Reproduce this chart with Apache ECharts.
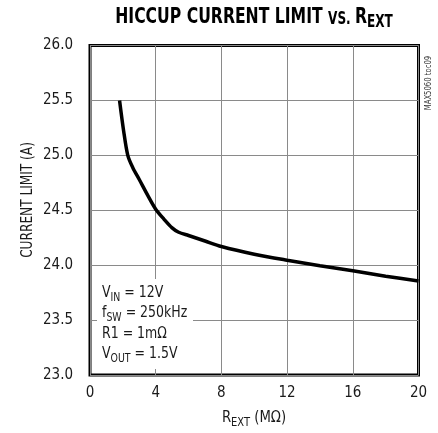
<!DOCTYPE html>
<html><head><meta charset="utf-8">
<script src="https://cdn.jsdelivr.net/npm/echarts@6/dist/echarts.min.js"></script>
<style>html,body{margin:0;padding:0;background:#fff}#c{width:438px;height:433px}</style>
</head><body><div id="c"></div>
<script>
const rExt = [1.8, 2.05, 2.3, 2.6, 3.0, 3.5, 4.0, 4.5, 5.0, 5.4, 6.0, 7.0, 8.0, 10, 12, 14, 16, 18, 20];
const currentLimit = [25.5, 25.22, 25.0, 24.89, 24.78, 24.64, 24.51, 24.42, 24.34, 24.30, 24.27, 24.22, 24.17, 24.10, 24.045, 23.995, 23.95, 23.90, 23.855];
const xTicks = [0, 4, 8, 12, 16, 20];
const yTicks = ['23.0','23.5','24.0','24.5','25.0','25.5','26.0'];

const FONT = '"DejaVu Sans Condensed","Liberation Sans Narrow",sans-serif';
const chart = echarts.init(document.getElementById('c'), null, {renderer:'canvas'});
const base = {fontFamily: FONT, color: '#1a1a1a'};
chart.setOption({
  animation: false,
  grid: {left: 90, right: 19.5, top: 45.5, bottom: 58, containLabel: false, outerBoundsMode: 'none',
         show: true, borderColor: '#000', borderWidth: 3, backgroundColor: 'transparent'},
  xAxis: {
    type: 'value', min: 0, max: 20, interval: 4,
    axisLine: {show: false}, axisTick: {show: false},
    splitLine: {show: true, lineStyle: {color: '#8a8a8a', width: 1}},
    axisLabel: Object.assign({fontSize: 15, margin: 11, formatter: v => xTicks.includes(v) ? String(v) : ''}, base)
  },
  yAxis: {
    type: 'value', min: 23, max: 26, interval: 0.5,
    axisLine: {show: false}, axisTick: {show: false},
    splitLine: {show: true, lineStyle: {color: '#8a8a8a', width: 1}},
    axisLabel: Object.assign({fontSize: 15, margin: 17, formatter: v => yTicks.find(t => Math.abs(parseFloat(t) - v) < 1e-6) || ''}, base)
  },
  series: [{
    type: 'line', data: rExt.map((x, i) => [x, currentLimit[i]]),
    smooth: 0.3, symbol: 'none', lineStyle: {color: '#000', width: 3.5}, z: 5
  }],
  graphic: [
    {type: 'text', x: 254, y: 20, scaleX: 0.79, style: {
      text: '{a|HICCUP CURRENT LIMIT }{b|VS. }{a|R}{s|EXT}', align: 'center', verticalAlign: 'middle',
      rich: {
        a: {fontFamily: FONT, fontWeight: 'bold', fontSize: 22, fill: '#000', verticalAlign: 'bottom', lineHeight: 23, padding: [0,0,3,0]},
        b: {fontFamily: FONT, fontWeight: 'bold', fontSize: 17, fill: '#000', verticalAlign: 'bottom', lineHeight: 18, padding: [0,0,3,0]},
        s: {fontFamily: FONT, fontWeight: 'bold', fontSize: 17, fill: '#000', verticalAlign: 'bottom', lineHeight: 18}
      }}},
    {type: 'text', x: 28, y: 200, rotation: Math.PI/2, scaleX: 0.9, style: {
      text: 'CURRENT LIMIT (A)', align: 'center', verticalAlign: 'middle',
      fontFamily: FONT, fontSize: 15, fill: '#1a1a1a'}},
    {type: 'text', x: 254, y: 420, scaleX: 0.92, style: {
      text: '{a|R}{s|EXT}{a| (MΩ)}', align: 'center', verticalAlign: 'middle',
      rich: {
        a: {fontFamily: FONT, fontSize: 16, fill: '#1a1a1a', verticalAlign: 'bottom', lineHeight: 18, padding: [0,0,3,0]},
        s: {fontFamily: FONT, fontSize: 12, fill: '#1a1a1a', verticalAlign: 'bottom', lineHeight: 13}
      }}},
    {type: 'rect', shape: {x: 97, y: 279, width: 96, height: 90}, style: {fill: '#fff'}, z: 10},
    {type: 'text', x: 102, y: 283, z: 11, scaleX: 0.87, style: {
      text: '{a|V}{s|IN}{a| = 12V}\n{a|f}{s|SW}{a| = 250kHz}\n{a|R1 = 1mΩ}\n{a|V}{s|OUT}{a| = 1.5V}', align: 'left', verticalAlign: 'top',
      rich: {
        a: {fontFamily: FONT, fontSize: 16, fill: '#1a1a1a', verticalAlign: 'bottom', lineHeight: 20.5, padding: [0,0,3,0]},
        s: {fontFamily: FONT, fontSize: 12, fill: '#1a1a1a', verticalAlign: 'bottom', lineHeight: 13}
      }}},
    {type: 'text', x: 429, y: 83, rotation: Math.PI/2, scaleX: 0.85, style: {
      text: 'MAX5060 toc09', align: 'center', verticalAlign: 'middle',
      fontFamily: FONT, fontSize: 9, fill: '#333'}}
  ]
});
</script></body></html>
